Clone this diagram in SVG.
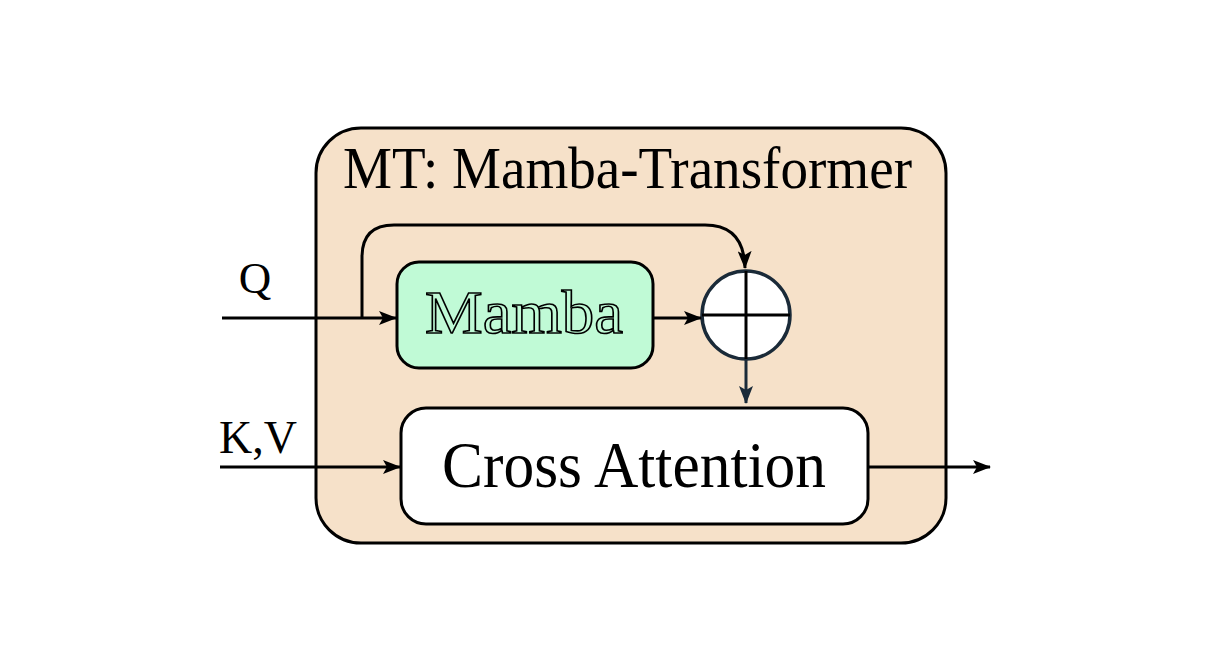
<svg xmlns="http://www.w3.org/2000/svg" width="1215" height="665" viewBox="0 0 1215 665">
<defs>
<marker id="ah" viewBox="0 0 18 14" refX="17" refY="7" markerWidth="18" markerHeight="14" markerUnits="userSpaceOnUse" orient="auto"><path d="M0,0 L18,7 L0,14 L4,7 Z" fill="#000"/></marker>
<marker id="ahn" viewBox="0 0 18 14" refX="17" refY="7" markerWidth="18" markerHeight="14" markerUnits="userSpaceOnUse" orient="auto"><path d="M0,0 L18,7 L0,14 L4,7 Z" fill="#1a2a38"/></marker>
</defs>
<style>
text{font-family:"Liberation Serif","Times New Roman",serif;fill:#000}
.line{fill:none;stroke:#000;stroke-width:3}
.nav{fill:none;stroke:#1a2a38;stroke-width:3}
</style>
<rect width="1215" height="665" fill="#fff"/>
<g id="mt">
<rect x="316" y="128" width="630" height="415" rx="45" fill="#f6e1c9" stroke="#000" stroke-width="3"/>
<text x="343" y="188" font-size="60" textLength="569" lengthAdjust="spacingAndGlyphs">MT: Mamba-Transformer</text>
</g>
<g id="mamba">
<rect x="397" y="262" width="256" height="106" rx="22" fill="#c0fad6" stroke="#000" stroke-width="3"/>
<text x="425" y="333" font-size="62" textLength="198" lengthAdjust="spacingAndGlyphs" style="fill:#c0fad6;stroke:#000;stroke-width:1.6">Mamba</text>
</g>
<g id="add">
<circle cx="746" cy="315" r="44" fill="#fff" stroke="#1a2a38" stroke-width="3.5"/>
<line x1="746" y1="271" x2="746" y2="359" stroke="#000" stroke-width="3"/>
<line x1="702" y1="315" x2="790" y2="315" stroke="#000" stroke-width="3"/>
</g>
<g id="cross">
<rect x="401" y="408" width="467" height="116" rx="25" fill="#fff" stroke="#000" stroke-width="3"/>
<text x="442" y="487" font-size="65" textLength="384" lengthAdjust="spacingAndGlyphs">Cross Attention</text>
</g>
<g id="labels">
<text x="255" y="293" font-size="45" text-anchor="middle">Q</text>
<text x="258" y="453" font-size="46" text-anchor="middle">K,V</text>
</g>
<g id="connectors">
<path class="line" d="M222,318 L396,318" marker-end="url(#ah)"/>
<path class="line" d="M362,318 L362,257 Q362,225 394,225 L705,225 Q744,225 745,268" marker-end="url(#ah)"/>
<path class="line" d="M653,318 L701,318" marker-end="url(#ah)"/>
<path class="nav" d="M746,359 L746,403" marker-end="url(#ahn)"/>
<path class="line" d="M220,467 L400,467" marker-end="url(#ah)"/>
<path class="line" d="M868,467 L990,467" marker-end="url(#ah)"/>
</g>
</svg>
